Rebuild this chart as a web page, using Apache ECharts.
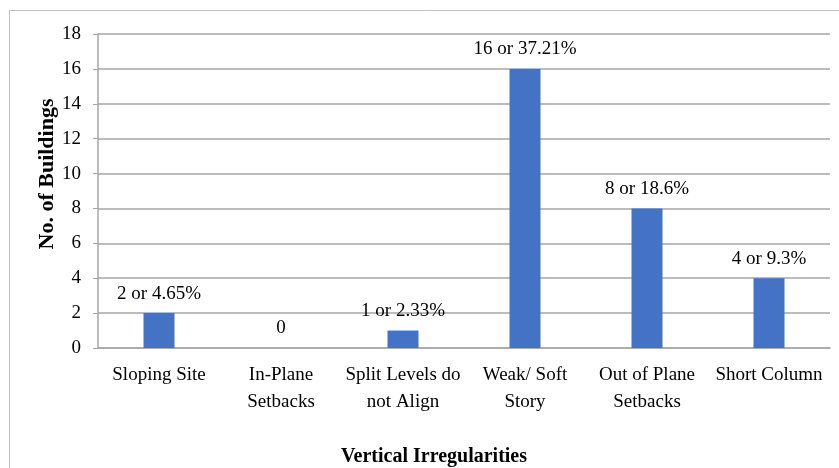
<!DOCTYPE html>
<html>
<head>
<meta charset="utf-8">
<title>Vertical Irregularities</title>
<script src="https://cdn.jsdelivr.net/npm/echarts@6/dist/echarts.min.js"></script>
<style>
  html, body { margin: 0; padding: 0; background: #fff; }
  #main { width: 839px; height: 468px; }
</style>
</head>
<body>
<div id="main"></div>
<script>
var categories = ["Sloping Site", "In-Plane\nSetbacks", "Split Levels do\nnot Align", "Weak/ Soft\nStory", "Out of Plane\nSetbacks", "Short Column"];
var counts = [2, 0, 1, 16, 8, 4];
var percents = ["4.65%", "", "2.33%", "37.21%", "18.6%", "9.3%"];
var yTicks = { min: 0, max: 18, step: 2 };

var serif = "Liberation Serif, Times New Roman, serif";

// label: "n or p%" ; just "0" when empty
function barLabel(p) {
  var pct = percents[p.dataIndex];
  return pct ? p.value + " or " + pct : String(p.value);
}

var myChart = echarts.init(document.getElementById('main'));
myChart.setOption({
  animation: false,
  textStyle: { fontFamily: serif },
  graphic: [
    { type: 'rect', shape: { x: 9.5, y: 10.5, width: 900, height: 600 },
      style: { fill: null, stroke: '#bfbfbf', lineWidth: 1 } },
    // axis titles
    { type: 'text', x: 434, y: 457,
      style: { text: 'Vertical Irregularities', font: 'bold 20px ' + serif, fill: '#000',
               align: 'center', verticalAlign: 'middle' } },
    { type: 'text', x: 47, y: 174, rotation: Math.PI / 2,
      style: { text: 'No. of Buildings', font: 'bold 22px ' + serif, fill: '#000',
               align: 'center', verticalAlign: 'middle' } }
  ],
  grid: { left: 98, right: 9, top: 34, bottom: 120 },
  xAxis: {
    type: 'category',
    data: categories,
    axisLine: { lineStyle: { color: '#a6a6a6', width: 1.5 } },
    axisTick: { show: false },
    axisLabel: { color: '#000', fontSize: 19, fontFamily: serif, lineHeight: 27, margin: 14, interval: 0 }
  },
  yAxis: {
    type: 'value',
    min: yTicks.min, max: yTicks.max, interval: yTicks.step,
    axisLine: { show: true, lineStyle: { color: '#a6a6a6', width: 1.5 } },
    axisTick: { show: true, length: 5, lineStyle: { color: '#a6a6a6' } },
    axisLabel: { color: '#000', fontSize: 19, fontFamily: serif, margin: 17 },
    splitLine: { lineStyle: { color: '#a6a6a6', width: 1.5 } }
  },
  series: [{
    type: 'bar',
    data: counts,
    barWidth: 31,
    itemStyle: { color: '#4472c4' },
    label: {
      show: true, position: 'top', distance: 10,
      color: '#000', fontSize: 19, fontFamily: serif,
      formatter: barLabel
    }
  }]
});
</script>
</body>
</html>
